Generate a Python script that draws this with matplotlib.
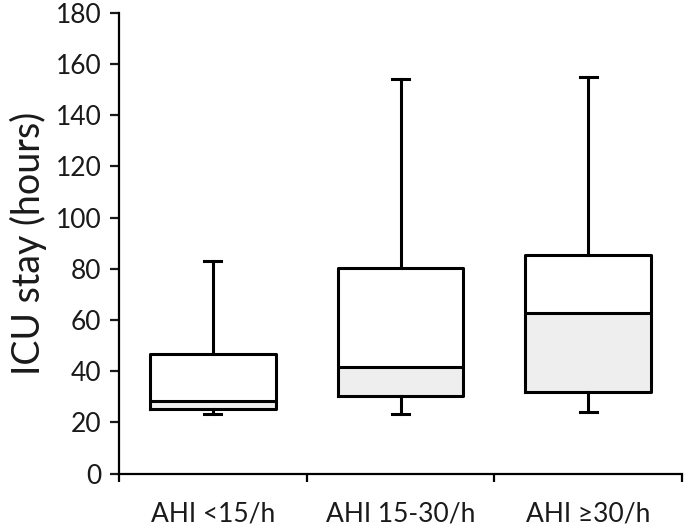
import matplotlib.pyplot as plt
from matplotlib.ticker import FixedLocator

groups = ['AHI <15/h', 'AHI 15-30/h', 'AHI \u226530/h']
whislo = [23.3, 23.3, 24.0]
q1 = [25.2, 30.3, 32.0]
med = [28.5, 41.8, 62.7]
q3 = [46.7, 80.3, 85.4]
whishi = [83.2, 154.0, 155.0]

plt.rcParams['font.family'] = ['Lato', 'DejaVu Sans']

fig = plt.figure(figsize=(6.85, 5.3), dpi=100)
ax = fig.add_axes([0.1737, 0.1066, 0.822, 0.869])

pos = [i + 0.5 for i in range(len(groups))]
box_w = 0.67

# lower half of each box is shaded grey
ax.bar(pos, [m - a for m, a in zip(med, q1)], bottom=q1, width=box_w,
       color='#eeeeee', edgecolor='none', zorder=1)

stats = []
for i in range(len(groups)):
    stats.append({'whislo': whislo[i], 'q1': q1[i], 'med': med[i],
                  'q3': q3[i], 'whishi': whishi[i], 'fliers': []})

lw = 2.2
ax.bxp(stats, positions=pos, widths=box_w, capwidths=0.09, showfliers=False,
       boxprops=dict(color='black', linewidth=lw),
       medianprops=dict(color='black', linewidth=lw),
       whiskerprops=dict(color='black', linewidth=lw),
       capprops=dict(color='black', linewidth=lw),
       manage_ticks=False, zorder=2)

ax.set_xlim(0, 3)
ax.set_ylim(0, 180)

for s in ['top', 'right']:
    ax.spines[s].set_visible(False)
for s in ['left', 'bottom']:
    ax.spines[s].set_linewidth(1.6)
    ax.spines[s].set_color('black')

ax.set_yticks(range(0, 181, 20))
ax.tick_params(axis='y', direction='out', length=6.5, width=1.6,
               labelsize=19, pad=6, colors='#1a1a1a')
ax.set_xticks(pos)
ax.set_xticklabels(groups)
ax.xaxis.set_minor_locator(FixedLocator([0, 1, 2, 3]))
ax.tick_params(axis='x', which='major', length=0, labelsize=19, pad=20,
               colors='#1a1a1a')
ax.tick_params(axis='x', which='minor', direction='out', length=6, width=1.6)

ax.set_ylabel('ICU stay (hours)', fontsize=27, color='#1a1a1a', labelpad=6)

fig.savefig('out.png', dpi=100)
